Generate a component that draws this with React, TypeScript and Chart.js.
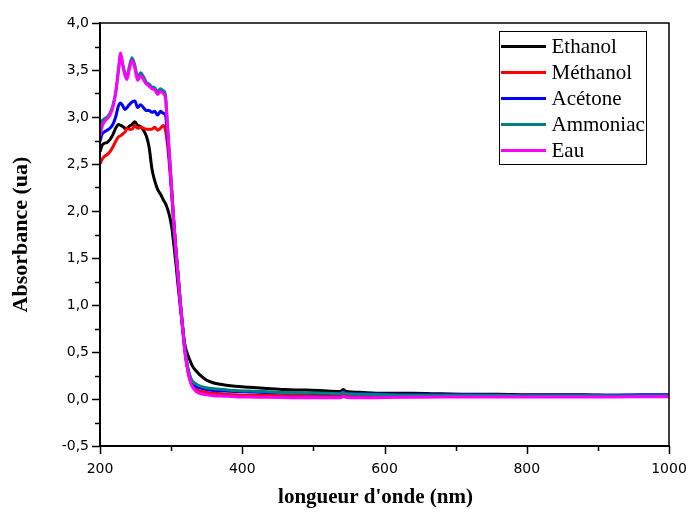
import React, { useEffect, useRef } from "react";
import { Chart, registerables } from "chart.js";

Chart.register(...registerables);

const wavelengths = [
  200, 203, 206, 210, 214, 218, 222,
  226, 229, 232, 235, 238, 241, 245, 249, 253, 257, 261, 265,
  269, 273, 277, 281, 285, 289, 292, 295, 298, 301,
  304, 307, 310, 313, 316, 319, 322, 326, 330, 335, 340,
  350, 360, 375, 390, 410, 430, 460, 490, 520, 538, 542, 546, 570, 600, 640, 680, 720, 760, 800, 840, 880, 920, 960, 1000,
];

const ethanol = [
  2.63, 2.70, 2.72, 2.73, 2.76, 2.81, 2.88,
  2.92, 2.91, 2.90, 2.88, 2.88, 2.90, 2.92, 2.95, 2.91, 2.90, 2.86, 2.80,
  2.68, 2.45, 2.32, 2.23, 2.18, 2.12, 2.08, 2.02, 1.94, 1.82,
  1.63, 1.42, 1.19, 0.98, 0.77, 0.59, 0.50, 0.42, 0.35, 0.30, 0.26,
  0.20, 0.17, 0.15, 0.135, 0.125, 0.115, 0.10, 0.095, 0.085, 0.08, 0.10, 0.08, 0.07, 0.06, 0.06, 0.055, 0.05, 0.05, 0.045, 0.045, 0.045, 0.04, 0.04, 0.04,
];

const methanol = [
  2.50, 2.55, 2.58, 2.60, 2.63, 2.68, 2.74,
  2.79, 2.80, 2.82, 2.84, 2.88, 2.87, 2.87, 2.91, 2.88, 2.89, 2.88, 2.87,
  2.87, 2.87, 2.89, 2.86, 2.88, 2.91, 2.86, 2.70, 2.45, 2.15,
  1.85, 1.56, 1.30, 1.02, 0.77, 0.54, 0.37, 0.22, 0.14, 0.10, 0.085,
  0.07, 0.06, 0.05, 0.045, 0.04, 0.04, 0.035, 0.035, 0.035, 0.035, 0.05, 0.04, 0.035, 0.035, 0.035, 0.035, 0.035, 0.035, 0.04, 0.035, 0.035, 0.035, 0.035, 0.035,
];

const acetone = [
  2.74, 2.82, 2.84, 2.86, 2.88, 2.92, 3.00,
  3.12, 3.15, 3.12, 3.08, 3.10, 3.13, 3.16, 3.17, 3.10, 3.13, 3.10, 3.07,
  3.07, 3.05, 3.06, 3.02, 3.06, 3.04, 3.02, 2.80, 2.52, 2.20,
  1.86, 1.56, 1.30, 1.02, 0.78, 0.55, 0.38, 0.24, 0.17, 0.13, 0.12,
  0.10, 0.09, 0.085, 0.08, 0.075, 0.07, 0.065, 0.06, 0.055, 0.055, 0.075, 0.06, 0.055, 0.05, 0.045, 0.045, 0.045, 0.04, 0.04, 0.04, 0.04, 0.04, 0.045, 0.045,
];

const ammoniac = [
  2.90, 2.96, 2.98, 3.00, 3.04, 3.12, 3.26,
  3.50, 3.66, 3.56, 3.47, 3.42, 3.53, 3.63, 3.55, 3.42, 3.47, 3.43, 3.37,
  3.35, 3.32, 3.31, 3.27, 3.30, 3.28, 3.24, 2.90, 2.56, 2.20,
  1.85, 1.56, 1.30, 1.03, 0.80, 0.56, 0.40, 0.26, 0.19, 0.16, 0.14,
  0.12, 0.11, 0.10, 0.09, 0.085, 0.08, 0.07, 0.065, 0.06, 0.055, 0.07, 0.055, 0.05, 0.045, 0.04, 0.04, 0.04, 0.04, 0.035, 0.035, 0.035, 0.035, 0.035, 0.035,
];

const eau = [
  2.80, 2.90, 2.95, 2.98, 3.02, 3.10, 3.25,
  3.50, 3.68, 3.55, 3.45, 3.40, 3.50, 3.60, 3.52, 3.39, 3.44, 3.40, 3.35,
  3.33, 3.30, 3.29, 3.24, 3.27, 3.25, 3.20, 2.88, 2.55, 2.20,
  1.85, 1.55, 1.28, 1.00, 0.76, 0.52, 0.36, 0.21, 0.13, 0.08, 0.06,
  0.045, 0.035, 0.03, 0.025, 0.02, 0.018, 0.015, 0.012, 0.012, 0.012, 0.03, 0.015, 0.012, 0.015, 0.018, 0.02, 0.02, 0.02, 0.022, 0.02, 0.022, 0.022, 0.025, 0.025,
];

const seriesNames = ["Ethanol", "Méthanol", "Acétone", "Ammoniac", "Eau"];
const seriesColors = ["#000000", "#ff0000", "#0000ff", "#008080", "#ff00ff"];
const seriesValues = [ethanol, methanol, acetone, ammoniac, eau];
const seriesOrder = [4, 3, 2, 1, 0];

const xTitle = "longueur d'onde (nm)";
const yTitle = "Absorbance (ua)";

if (typeof document !== "undefined") {
  document.body.style.margin = "0";
}

const framePlugin = {
  id: "frame",
  afterDraw(chart: any) {
    const ctx = chart.ctx;
    const { left, right, top, bottom } = chart.chartArea;
    const xs = chart.scales.x;
    const ys = chart.scales.y;
    ctx.save();
    ctx.strokeStyle = "#000";
    // box
    ctx.lineWidth = 1.5;
    ctx.beginPath();
    ctx.moveTo(left, top);
    ctx.lineTo(right, top);
    ctx.lineTo(right, bottom);
    ctx.stroke();
    // axes
    ctx.lineWidth = 2;
    ctx.beginPath();
    ctx.moveTo(left, top - 1);
    ctx.lineTo(left, bottom);
    ctx.lineTo(right + 1, bottom);
    ctx.stroke();
    // ticks
    ctx.lineWidth = 1.5;
    for (let v = -0.5; v <= 4.0001; v += 0.25) {
      const y = Math.round(ys.getPixelForValue(v)) + 0.5;
      const major = Math.abs(v * 2 - Math.round(v * 2)) < 1e-6;
      const len = major ? 8 : 5;
      ctx.beginPath();
      ctx.moveTo(left - len, y);
      ctx.lineTo(left, y);
      ctx.stroke();
    }
    for (let v = 200; v <= 1000; v += 100) {
      const x = Math.round(xs.getPixelForValue(v)) + 0.5;
      const major = v % 200 === 0;
      const len = major ? 8 : 5;
      ctx.beginPath();
      ctx.moveTo(x, bottom);
      ctx.lineTo(x, bottom + len);
      ctx.stroke();
    }
    // axis titles
    ctx.fillStyle = "#000";
    ctx.font = "bold 21px 'Liberation Serif', 'Times New Roman', serif";
    ctx.textAlign = "center";
    ctx.textBaseline = "middle";
    ctx.fillText(xTitle, left + (right - left) / 2 - 9, 498);
    ctx.font = "bold 22px 'Liberation Serif', 'Times New Roman', serif";
    ctx.save();
    ctx.translate(21, top + (bottom - top) / 2);
    ctx.rotate(-Math.PI / 2);
    ctx.fillText(yTitle, 0, 0);
    ctx.restore();
    // legend
    const lx = 499.5, ly = 31.5, lw = 147, lh = 133;
    ctx.fillStyle = "#fff";
    ctx.fillRect(lx, ly, lw, lh);
    ctx.lineWidth = 1;
    ctx.strokeStyle = "#000";
    ctx.strokeRect(lx, ly, lw, lh);
    ctx.font = "21px 'Liberation Serif', 'Times New Roman', serif";
    ctx.textAlign = "left";
    chart.data.datasets.forEach((ds: any, i: number) => {
      const y = ly + 15 + i * 26;
      ctx.strokeStyle = ds.borderColor;
      ctx.lineWidth = 3;
      ctx.beginPath();
      ctx.moveTo(lx + 1.5, y);
      ctx.lineTo(lx + 46.5, y);
      ctx.stroke();
      ctx.fillStyle = "#000";
      ctx.fillText(ds.label, lx + 52, y + 1);
    });
    ctx.restore();
  },
};

export default function App() {
  const ref = useRef<HTMLCanvasElement | null>(null);
  useEffect(() => {
    if (!ref.current) return;
    const datasets = seriesNames.map((name, i) => ({
      label: name,
      data: wavelengths.map((x, j) => ({ x, y: seriesValues[i][j] })),
      borderColor: seriesColors[i],
      backgroundColor: seriesColors[i],
      borderWidth: 3,
      pointRadius: 0,
      cubicInterpolationMode: "monotone" as const,
      order: seriesOrder[i],
      fill: false,
    }));
    const chart = new Chart(ref.current, {
      type: "line",
      data: { datasets },
      plugins: [framePlugin],
      options: {
        animation: false,
        responsive: true,
        maintainAspectRatio: false,
        layout: { padding: { left: 0, top: 23, right: 20, bottom: 0 } },
        plugins: { legend: { display: false }, tooltip: { enabled: false } },
        scales: {
          x: {
            type: "linear",
            min: 200,
            max: 1000,
            grid: { display: false, drawTicks: false },
            border: { display: false },
            afterFit(scale: any) {
              scale.height = 67;
              scale.paddingLeft = 0;
              scale.paddingRight = 0;
            },
            ticks: {
              stepSize: 200,
              padding: 15,
              color: "#000",
              font: { family: "'DejaVu Sans', sans-serif", size: 14 },
              callback: (v: any) => String(v),
              maxRotation: 0,
            },
          },
          y: {
            type: "linear",
            min: -0.5,
            max: 4.0,
            grid: { display: false, drawTicks: false },
            border: { display: false },
            afterFit(scale: any) {
              scale.width = 100;
              scale.paddingTop = 0;
              scale.paddingBottom = 0;
            },
            ticks: {
              stepSize: 0.5,
              padding: 11,
              color: "#000",
              font: { family: "'DejaVu Sans', sans-serif", size: 14 },
              callback: (v: any) => Number(v).toFixed(1).replace(".", ","),
            },
          },
        },
      },
    });
    return () => chart.destroy();
  }, []);
  return (
    <div style={{ width: 689, height: 513, position: "relative", overflow: "hidden" }}>
      <canvas ref={ref} />
    </div>
  );
}
